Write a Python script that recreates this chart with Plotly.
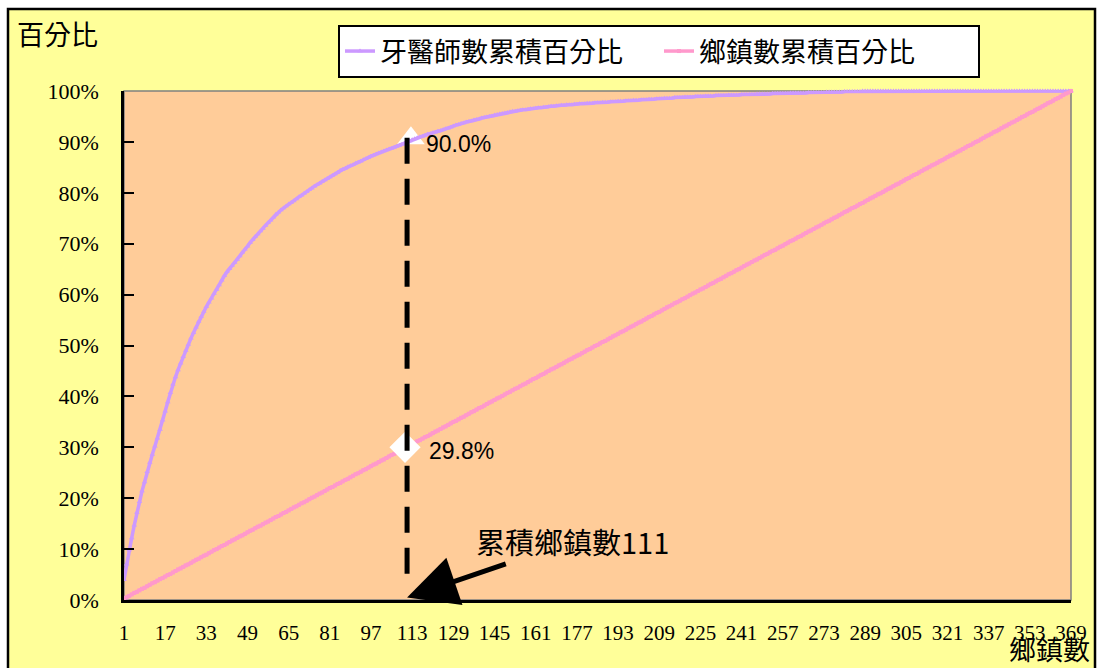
import plotly.graph_objects as go

# ---- data ----
townships = list(range(1, 370))

dentist_cum_pct = [
    4.0, 7.0, 9.8, 12.2, 14.7, 17.2, 19.3, 21.4, 23.2, 25.2,
    27.0, 28.6, 30.2, 31.8, 33.5, 35.3, 37.1, 38.9, 40.7, 42.4,
    43.8, 45.2, 46.5, 47.8, 49.0, 50.2, 51.4, 52.5, 53.6, 54.7,
    55.7, 56.7, 57.6, 58.5, 59.3, 60.2, 61.0, 61.9, 62.8, 63.7,
    64.5, 65.1, 65.7, 66.3, 66.9, 67.6, 68.3, 68.9, 69.5, 70.2,
    70.8, 71.4, 71.9, 72.5, 73.0, 73.6, 74.1, 74.6, 75.2, 75.8,
    76.2, 76.6, 77.0, 77.4, 77.8, 78.1, 78.4, 78.8, 79.2, 79.5,
    79.9, 80.2, 80.6, 80.9, 81.3, 81.6, 81.9, 82.2, 82.5, 82.8,
    83.1, 83.4, 83.7, 84.0, 84.4, 84.6, 84.8, 85.1, 85.3, 85.5,
    85.8, 86.0, 86.2, 86.5, 86.7, 86.9, 87.2, 87.4, 87.6, 87.8,
    88.0, 88.2, 88.4, 88.6, 88.7, 88.9, 89.1, 89.3, 89.5, 89.7,
    90.0, 90.2, 90.4, 90.6, 90.8, 91.0, 91.1, 91.3, 91.5, 91.6,
    91.8, 91.9, 92.1, 92.2, 92.4, 92.6, 92.7, 92.9, 93.1, 93.3,
    93.4, 93.6, 93.7, 93.9, 94.0, 94.1, 94.3, 94.4, 94.5, 94.7,
    94.8, 94.9, 95.0, 95.1, 95.3, 95.4, 95.5, 95.6, 95.7, 95.8,
    95.9, 96.0, 96.0, 96.1, 96.2, 96.3, 96.3, 96.4, 96.5, 96.5,
    96.6, 96.7, 96.7, 96.8, 96.8, 96.9, 97.0, 97.0, 97.1, 97.1,
    97.2, 97.2, 97.3, 97.3, 97.3, 97.4, 97.4, 97.5, 97.5, 97.5,
    97.6, 97.6, 97.6, 97.7, 97.7, 97.7, 97.8, 97.8, 97.8, 97.9,
    97.9, 97.9, 98.0, 98.0, 98.0, 98.1, 98.1, 98.1, 98.2, 98.2,
    98.2, 98.3, 98.3, 98.3, 98.4, 98.4, 98.4, 98.5, 98.5, 98.5,
    98.6, 98.6, 98.6, 98.6, 98.7, 98.7, 98.7, 98.7, 98.8, 98.8,
    98.8, 98.8, 98.9, 98.9, 98.9, 98.9, 99.0, 99.0, 99.0, 99.0,
    99.1, 99.1, 99.1, 99.1, 99.1, 99.2, 99.2, 99.2, 99.2, 99.2,
    99.3, 99.3, 99.3, 99.3, 99.3, 99.3, 99.4, 99.4, 99.4, 99.4,
    99.4, 99.4, 99.5, 99.5, 99.5, 99.5, 99.5, 99.5, 99.5, 99.6,
    99.6, 99.6, 99.6, 99.6, 99.6, 99.6, 99.7, 99.7, 99.7, 99.7,
    99.7, 99.7, 99.7, 99.8, 99.8, 99.8, 99.8, 99.8, 99.8, 99.8,
    99.9, 99.9, 99.9, 99.9, 99.9, 99.9, 99.9, 100.0, 100.0, 100.0,
    100.0, 100.0, 100.0, 100.0, 100.0, 100.0, 100.0, 100.0, 100.0, 100.0,
    100.0, 100.0, 100.0, 100.0, 100.0, 100.0, 100.0, 100.0, 100.0, 100.0,
    100.0, 100.0, 100.0, 100.0, 100.0, 100.0, 100.0, 100.0, 100.0, 100.0,
    100.0, 100.0, 100.0, 100.0, 100.0, 100.0, 100.0, 100.0, 100.0, 100.0,
    100.0, 100.0, 100.0, 100.0, 100.0, 100.0, 100.0, 100.0, 100.0, 100.0,
    100.0, 100.0, 100.0, 100.0, 100.0, 100.0, 100.0, 100.0, 100.0, 100.0,
    100.0, 100.0, 100.0, 100.0, 100.0, 100.0, 100.0, 100.0, 100.0, 100.0,
    100.0, 100.0, 100.0, 100.0, 100.0, 100.0, 100.0, 100.0, 100.0,
]

township_cum_pct = [
    0.3, 0.5, 0.8, 1.1, 1.4, 1.6, 1.9, 2.2, 2.4, 2.7,
    3.0, 3.3, 3.5, 3.8, 4.1, 4.3, 4.6, 4.9, 5.1, 5.4,
    5.7, 6.0, 6.2, 6.5, 6.8, 7.0, 7.3, 7.6, 7.9, 8.1,
    8.4, 8.7, 8.9, 9.2, 9.5, 9.8, 10.0, 10.3, 10.6, 10.8,
    11.1, 11.4, 11.7, 11.9, 12.2, 12.5, 12.7, 13.0, 13.3, 13.6,
    13.8, 14.1, 14.4, 14.6, 14.9, 15.2, 15.4, 15.7, 16.0, 16.3,
    16.5, 16.8, 17.1, 17.3, 17.6, 17.9, 18.2, 18.4, 18.7, 19.0,
    19.2, 19.5, 19.8, 20.1, 20.3, 20.6, 20.9, 21.1, 21.4, 21.7,
    22.0, 22.2, 22.5, 22.8, 23.0, 23.3, 23.6, 23.8, 24.1, 24.4,
    24.7, 24.9, 25.2, 25.5, 25.7, 26.0, 26.3, 26.6, 26.8, 27.1,
    27.4, 27.6, 27.9, 28.2, 28.5, 28.7, 29.0, 29.3, 29.5, 29.8,
    30.1, 30.4, 30.6, 30.9, 31.2, 31.4, 31.7, 32.0, 32.2, 32.5,
    32.8, 33.1, 33.3, 33.6, 33.9, 34.1, 34.4, 34.7, 35.0, 35.2,
    35.5, 35.8, 36.0, 36.3, 36.6, 36.9, 37.1, 37.4, 37.7, 37.9,
    38.2, 38.5, 38.8, 39.0, 39.3, 39.6, 39.8, 40.1, 40.4, 40.7,
    40.9, 41.2, 41.5, 41.7, 42.0, 42.3, 42.5, 42.8, 43.1, 43.4,
    43.6, 43.9, 44.2, 44.4, 44.7, 45.0, 45.3, 45.5, 45.8, 46.1,
    46.3, 46.6, 46.9, 47.2, 47.4, 47.7, 48.0, 48.2, 48.5, 48.8,
    49.1, 49.3, 49.6, 49.9, 50.1, 50.4, 50.7, 50.9, 51.2, 51.5,
    51.8, 52.0, 52.3, 52.6, 52.8, 53.1, 53.4, 53.7, 53.9, 54.2,
    54.5, 54.7, 55.0, 55.3, 55.6, 55.8, 56.1, 56.4, 56.6, 56.9,
    57.2, 57.5, 57.7, 58.0, 58.3, 58.5, 58.8, 59.1, 59.3, 59.6,
    59.9, 60.2, 60.4, 60.7, 61.0, 61.2, 61.5, 61.8, 62.1, 62.3,
    62.6, 62.9, 63.1, 63.4, 63.7, 64.0, 64.2, 64.5, 64.8, 65.0,
    65.3, 65.6, 65.9, 66.1, 66.4, 66.7, 66.9, 67.2, 67.5, 67.8,
    68.0, 68.3, 68.6, 68.8, 69.1, 69.4, 69.6, 69.9, 70.2, 70.5,
    70.7, 71.0, 71.3, 71.5, 71.8, 72.1, 72.4, 72.6, 72.9, 73.2,
    73.4, 73.7, 74.0, 74.3, 74.5, 74.8, 75.1, 75.3, 75.6, 75.9,
    76.2, 76.4, 76.7, 77.0, 77.2, 77.5, 77.8, 78.0, 78.3, 78.6,
    78.9, 79.1, 79.4, 79.7, 79.9, 80.2, 80.5, 80.8, 81.0, 81.3,
    81.6, 81.8, 82.1, 82.4, 82.7, 82.9, 83.2, 83.5, 83.7, 84.0,
    84.3, 84.6, 84.8, 85.1, 85.4, 85.6, 85.9, 86.2, 86.4, 86.7,
    87.0, 87.3, 87.5, 87.8, 88.1, 88.3, 88.6, 88.9, 89.2, 89.4,
    89.7, 90.0, 90.2, 90.5, 90.8, 91.1, 91.3, 91.6, 91.9, 92.1,
    92.4, 92.7, 93.0, 93.2, 93.5, 93.8, 94.0, 94.3, 94.6, 94.9,
    95.1, 95.4, 95.7, 95.9, 96.2, 96.5, 96.7, 97.0, 97.3, 97.6,
    97.8, 98.1, 98.4, 98.6, 98.9, 99.2, 99.5, 99.7, 100.0,
]

x_tick_vals = [1, 17, 33, 49, 65, 81, 97, 113, 129, 145, 161, 177, 193, 209,
               225, 241, 257, 273, 289, 305, 321, 337, 353, 369]
x_tick_text = [str(v) for v in x_tick_vals]
y_tick_vals = [0, 10, 20, 30, 40, 50, 60, 70, 80, 90, 100]
y_tick_text = ["0%", "10%", "20%", "30%", "40%", "50%", "60%", "70%", "80%", "90%", "100%"]

series_names = ["牙醫師數累積百分比", "鄉鎮數累積百分比"]
marker_point_dentist = (112.5, 90.7)
marker_point_town = (110.2, 30.0)
label_dentist = "90.0%"
label_town = "29.8%"
cut_township = 111
arrow_text = "累積鄉鎮數111"
y_title = "百分比"
x_title = "鄉鎮數"

# ---- layout geometry ----
W, H = 1101, 668
L, R, T, B = 124, 1071, 91, 600
pw, ph = R - L, B - T


def px(xp):
    return (xp - L) / pw


def py(yp):
    return (B - yp) / ph


CJK = "Noto Sans CJK TC"
SERIF = "Liberation Serif"
SANS = "Liberation Sans, Arial"

fig = go.Figure()

# white triangle highlight (behind purple line)
fig.add_trace(go.Scatter(
    x=[marker_point_dentist[0]], y=[marker_point_dentist[1]], mode="markers",
    marker=dict(symbol="triangle-up", size=24, color="white", line=dict(width=0)),
    showlegend=False, cliponaxis=False, hoverinfo="skip"))

fig.add_trace(go.Scatter(
    x=townships, y=dentist_cum_pct, name=series_names[0], mode="lines+markers",
    line=dict(color="#CC99FF", width=3.5),
    marker=dict(symbol="triangle-up", size=5, color="#CC99FF"),
    cliponaxis=False))

fig.add_trace(go.Scatter(
    x=townships, y=township_cum_pct, name=series_names[1], mode="lines+markers",
    line=dict(color="#FF99CC", width=3.5),
    marker=dict(symbol="square", size=4, color="#FF99CC"),
    cliponaxis=False))

# white diamond highlight (on top of pink line)
fig.add_trace(go.Scatter(
    x=[marker_point_town[0]], y=[marker_point_town[1]], mode="markers",
    marker=dict(symbol="diamond", size=24, color="white", line=dict(width=0)),
    showlegend=False, cliponaxis=False, hoverinfo="skip"))

shapes = [
    # yellow chart area with black border
    dict(type="rect", xref="paper", yref="paper",
         x0=px(8), x1=px(1095), y0=py(676), y1=py(9),
         fillcolor="#FFFF99", line=dict(color="black", width=2.5), layer="below"),
    # peach plot area
    dict(type="rect", xref="paper", yref="paper",
         x0=0, x1=1, y0=0, y1=1,
         fillcolor="#FFCC99", line=dict(color="#808080", width=1.5), layer="below"),
    # dashed vertical line
    dict(type="line", xref="x", yref="y",
         x0=cut_township, x1=cut_township, y0=90.8, y1=2.9,
         line=dict(color="black", width=5, dash="26px,15px"), layer="above"),
]

annotations = [
    dict(text=label_dentist, x=px(424), y=py(144), xref="paper", yref="paper",
         xanchor="left", yanchor="middle", showarrow=False,
         font=dict(family=SANS, size=23, color="black")),
    dict(text=label_town, x=px(427), y=py(451), xref="paper", yref="paper",
         xanchor="left", yanchor="middle", showarrow=False,
         font=dict(family=SANS, size=23, color="black")),
    dict(text=arrow_text, x=cut_township, y=0.5, xref="x", yref="y",
         ax=165, ay=-56, showarrow=True, arrowhead=2, arrowsize=2.0,
         arrowwidth=5, arrowcolor="black",
         font=dict(family=CJK, size=29, color="black")),
    dict(text=y_title, x=px(57), y=py(33), xref="paper", yref="paper",
         xanchor="center", yanchor="middle", showarrow=False,
         font=dict(family=CJK, size=27, color="black")),
    dict(text=x_title, x=px(1049), y=py(648), xref="paper", yref="paper",
         xanchor="center", yanchor="middle", showarrow=False,
         font=dict(family=CJK, size=27, color="black")),
]

fig.update_layout(
    width=W, height=H, autosize=False,
    margin=dict(l=L, r=W - R, t=T, b=H - B, pad=0),
    paper_bgcolor="white", plot_bgcolor="rgba(0,0,0,0)",
    shapes=shapes, annotations=annotations,
    showlegend=True,
    legend=dict(orientation="h", x=px(338), y=py(25), xanchor="left", yanchor="top",
                bgcolor="white", bordercolor="black", borderwidth=2,
                entrywidth=274, entrywidthmode="pixels",
                font=dict(family=CJK, size=27, color="black"),
                itemclick=False, itemdoubleclick=False),
    hovermode=False,
    xaxis=dict(range=[1, 369], tickmode="array", tickvals=x_tick_vals, ticktext=x_tick_text,
               showgrid=False, zeroline=False, showline=True, linecolor="black", linewidth=2.5,
               ticks="", ticklabelstandoff=12,
               tickfont=dict(family=SERIF, size=21, color="black"), fixedrange=True),
    yaxis=dict(range=[0, 100], tickmode="array", tickvals=y_tick_vals, ticktext=y_tick_text,
               showgrid=False, zeroline=False, showline=True, linecolor="black", linewidth=2.5,
               ticks="inside", ticklen=10, tickwidth=2, tickcolor="black",
               ticklabelstandoff=18,
               tickfont=dict(family=SERIF, size=22, color="black"), fixedrange=True),
)

fig.write_html("out.html")
